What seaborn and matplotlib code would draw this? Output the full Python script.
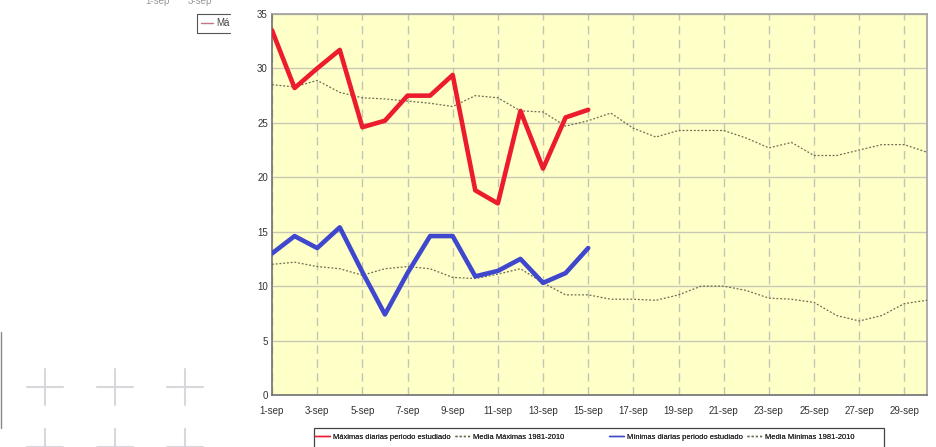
import matplotlib
matplotlib.use('Agg')
import matplotlib.pyplot as plt
import seaborn as sns
import pandas as pd
from matplotlib.lines import Line2D
from matplotlib.patches import Rectangle

# Days of September
days = list(range(1, 31))
day_labels = [f'{d}-sep' for d in range(1, 30, 2)]

# Daily values of the studied period (1-15 sep)
max_diarias = [33.5, 28.2, 30.0, 31.7, 24.6, 25.2, 27.5, 27.5, 29.4, 18.8,
               17.6, 26.1, 20.8, 25.5, 26.2]
min_diarias = [13.0, 14.6, 13.5, 15.4, 11.3, 7.4, 11.2, 14.6, 14.6, 10.9,
               11.4, 12.5, 10.3, 11.2, 13.5]

# Climatological means 1981-2010
media_max = [28.5, 28.3, 28.9, 27.8, 27.3, 27.2, 27.0, 26.8, 26.5, 27.5,
             27.3, 26.1, 26.0, 24.7, 25.2, 25.9, 24.5, 23.7, 24.3, 24.3,
             24.3, 23.6, 22.7, 23.2, 22.0, 22.0, 22.5, 23.0, 23.0, 22.3]
media_min = [12.0, 12.2, 11.8, 11.6, 11.0, 11.6, 11.8, 11.6, 10.8, 10.7,
             11.1, 11.6, 10.3, 9.2, 9.2, 8.8, 8.8, 8.7, 9.2, 10.0,
             10.0, 9.6, 8.9, 8.8, 8.5, 7.3, 6.8, 7.3, 8.4, 8.7]

labels = ['Máximas diarias periodo estudiado', 'Media Máximas 1981-2010',
          'Mínimas diarias periodo estudiado', 'Media Mínimas 1981-2010']

red = '#ec1c2e'
blue = '#3f48cc'
dotc = '#6e6a52'
dots = (0, (1.5, 1.5))

sns.set_style('white')
plt.rcParams['font.family'] = ['Liberation Sans', 'DejaVu Sans']

fig = plt.figure(figsize=(9.36, 4.47), dpi=100)
ax = fig.add_axes([272 / 936, 1 - 395 / 447, 655 / 936, 381 / 447])
ax.set_facecolor('#ffffc8')

obs = pd.DataFrame({'dia': days[:len(max_diarias)], 'max': max_diarias, 'min': min_diarias})
clim = pd.DataFrame({'dia': days, 'max': media_max, 'min': media_min})

sns.lineplot(data=clim, x='dia', y='max', ax=ax, color=dotc, lw=0.9, linestyle=dots, zorder=3)
sns.lineplot(data=clim, x='dia', y='min', ax=ax, color=dotc, lw=0.9, linestyle=dots, zorder=3)
sns.lineplot(data=obs, x='dia', y='max', ax=ax, color=red, lw=3.3, zorder=4)
sns.lineplot(data=obs, x='dia', y='min', ax=ax, color=blue, lw=3.3, zorder=4)

ax.set_xlim(1, 30)
ax.set_ylim(0, 35)
ax.set_xticks(range(1, 30, 2))
ax.set_xticklabels(day_labels)
ax.set_yticks(range(0, 36, 5))
ax.set_xlabel('')
ax.set_ylabel('')
ax.tick_params(axis='both', length=0, labelsize=7, colors='#333333', pad=8)
ax.tick_params(axis='y', pad=3)

ax.yaxis.grid(True, color='#c8c8b4', lw=1.0, linestyle='-')
ax.xaxis.grid(True, color='#c4c4b4', lw=1.0, linestyle=(0, (6, 4)))
ax.set_axisbelow(True)
for side in ['left', 'bottom']:
    ax.spines[side].set_color('#707070')
    ax.spines[side].set_linewidth(1.2)
for side in ['top', 'right']:
    ax.spines[side].set_color('#a0a0a0')
    ax.spines[side].set_linewidth(1.2)

# Legend along the bottom: two groups inside one box
leg_font = {'family': 'Liberation Sans', 'size': 5.4}
h_max = [Line2D([], [], color=red, lw=1), Line2D([], [], color=dotc, lw=1, linestyle=dots)]
h_min = [Line2D([], [], color=blue, lw=1), Line2D([], [], color=dotc, lw=1, linestyle=dots)]
leg_y = 1 - 437 / 447
for hs, labs, x0 in [(h_max, labels[:2], 315), (h_min, labels[2:], 609)]:
    lg = fig.legend(hs, labs, loc='center left', ncol=2, bbox_to_anchor=(x0 / 936, leg_y),
                    frameon=False, prop=leg_font, handlelength=2.0, handletextpad=0.4,
                    columnspacing=0.6, borderpad=0, borderaxespad=0)
    for t in lg.get_texts():
        t.set_color('#222222')
    fig.add_artist(lg)
fig.add_artist(Rectangle((314 / 936, -0.02), 570 / 936, 1 - 428 / 447 + 0.02,
                         transform=fig.transFigure, fill=False, ec='#444444', lw=0.9))

# Faint remnants on the left of the screenshot
fig.text(145 / 936, 1 - 1 / 447, '1-sep', fontsize=7, color='#999999', va='center')
fig.text(188 / 936, 1 - 1 / 447, '3-sep', fontsize=7, color='#999999', va='center')
frag = dict(transform=fig.transFigure, color='#555555', lw=0.8)
fig.add_artist(Line2D([197 / 936, 230 / 936], [1 - 14 / 447] * 2, **frag))
fig.add_artist(Line2D([197 / 936, 230 / 936], [1 - 33 / 447] * 2, **frag))
fig.add_artist(Line2D([197 / 936] * 2, [1 - 14 / 447, 1 - 33 / 447], **frag))
fig.add_artist(Line2D([201 / 936, 213 / 936], [1 - 23 / 447] * 2,
                      transform=fig.transFigure, color='#c07880', lw=1))
fig.text(216 / 936, 1 - 23 / 447, 'Má', fontsize=7, color='#444444', va='center')
for cx in [45, 115, 185]:
    for cy in [387, 447]:
        fig.add_artist(Line2D([(cx - 18) / 936, (cx + 18) / 936], [1 - cy / 447] * 2,
                              transform=fig.transFigure, color='#d8d8dc', lw=1.5))
        fig.add_artist(Line2D([cx / 936] * 2, [1 - (cy - 18) / 447, 1 - (cy + 18) / 447],
                              transform=fig.transFigure, color='#d8d8dc', lw=1.5))
fig.add_artist(Line2D([0.5 / 936] * 2, [1 - 332 / 447, 1 - 428 / 447],
                      transform=fig.transFigure, color='#888888', lw=1))

fig.savefig('out.png', dpi=100)
